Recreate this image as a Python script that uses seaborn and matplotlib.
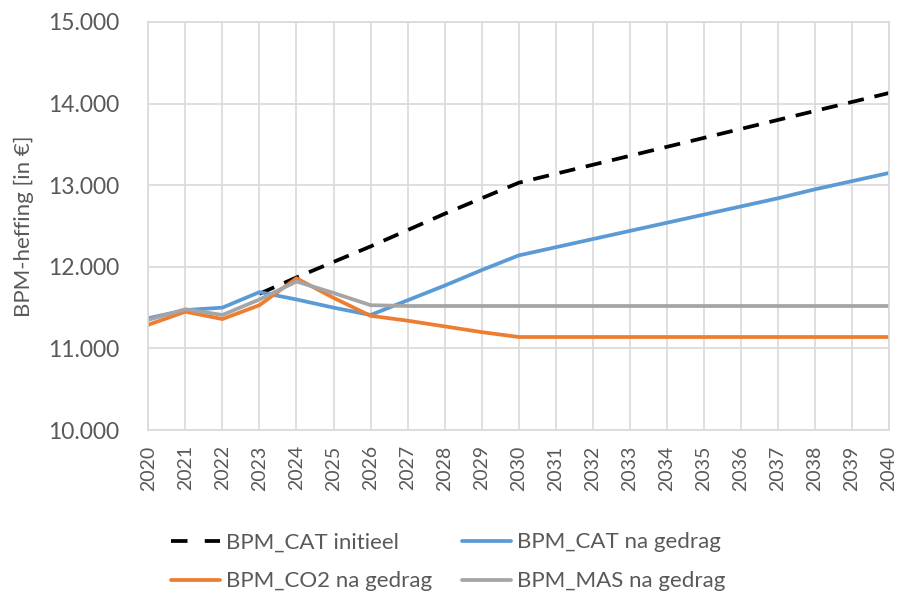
import matplotlib
matplotlib.use("Agg")
import matplotlib.pyplot as plt
import matplotlib.ticker as ticker
import numpy as np
import pandas as pd
import seaborn as sns

years = list(range(2020, 2041))

# BPM_CAT initieel (only visible from 2023 onward)
cat_initieel = [np.nan, np.nan, np.nan, 11670, 11870, 12060, 12250, 12450, 12650, 12840,
                13030, 13140, 13250, 13360, 13470, 13580, 13690, 13800, 13910, 14020, 14130]
cat_gedrag = [11370, 11470, 11500, 11690, 11600, 11500, 11410, 11590, 11770, 11960,
              12140, 12240, 12340, 12440, 12540, 12640, 12740, 12840, 12950, 13050, 13150]
co2_gedrag = [11290, 11450, 11360, 11530, 11860, 11620, 11400, 11340, 11270, 11200,
              11140, 11140, 11140, 11140, 11140, 11140, 11140, 11140, 11140, 11140, 11140]
mas_gedrag = [11350, 11480, 11410, 11600, 11820, 11680, 11530, 11520, 11520, 11520,
              11520, 11520, 11520, 11520, 11520, 11520, 11520, 11520, 11520, 11520, 11520]

labels = ["BPM_CAT initieel", "BPM_CAT na gedrag", "BPM_CO2 na gedrag", "BPM_MAS na gedrag"]
colors = ["#000000", "#5B9BD5", "#ED7D31", "#A5A5A5"]

sns.set_style("white")
plt.rcParams["font.family"] = ["Lato", "DejaVu Sans"]

fig, ax = plt.subplots(figsize=(8.99, 5.94), dpi=100)
fig.subplots_adjust(left=0.165, right=0.989, top=0.963, bottom=0.276)

series = [cat_initieel, cat_gedrag, co2_gedrag, mas_gedrag]
for i, vals in enumerate(series):
    df = pd.DataFrame({"jaar": years, "waarde": vals})
    sns.lineplot(data=df, x="jaar", y="waarde", ax=ax, color=colors[i],
                 linewidth=2.7, label=labels[i], legend=False)

ax.lines[0].set_dashes((4.3, 2.9))
ax.lines[0].set_dash_capstyle("butt")

ax.set_xlim(2020, 2040)
ax.set_ylim(10000, 15000)
ax.xaxis.set_major_locator(ticker.MultipleLocator(1))
ax.yaxis.set_major_locator(ticker.MultipleLocator(1000))
ax.yaxis.set_major_formatter(ticker.FuncFormatter(lambda v, p: f"{int(v):,}".replace(",", ".")))
ax.grid(True, color="#D9D9D9", linewidth=1.2)
for s in ax.spines.values():
    s.set_color("#D9D9D9")
    s.set_linewidth(1.2)

ax.tick_params(axis="x", labelsize=14, labelcolor="#595959", rotation=90, length=0, pad=11)
ax.tick_params(axis="y", labelsize=16.5, labelcolor="#595959", length=0, pad=21)
ax.set_xlabel("")
ax.set_ylabel("BPM-heffing [in €]", fontsize=16, color="#595959")
ax.yaxis.set_label_coords(-0.155, 0.5)

handles, lbls = ax.get_legend_handles_labels()
order = [0, 2, 1, 3]
leg = fig.legend([handles[k] for k in order], [lbls[k] for k in order],
                 loc="center left", bbox_to_anchor=(0.19, 0.054), ncol=2,
                 frameon=False, fontsize=16, labelcolor="#595959", handlelength=2.2,
                 handletextpad=0.27, columnspacing=1.35, labelspacing=0.85,
                 borderpad=0, borderaxespad=0)
leg.get_lines()[0].set_dashes((4.4, 4.6))

plt.savefig("out.png", dpi=100)
